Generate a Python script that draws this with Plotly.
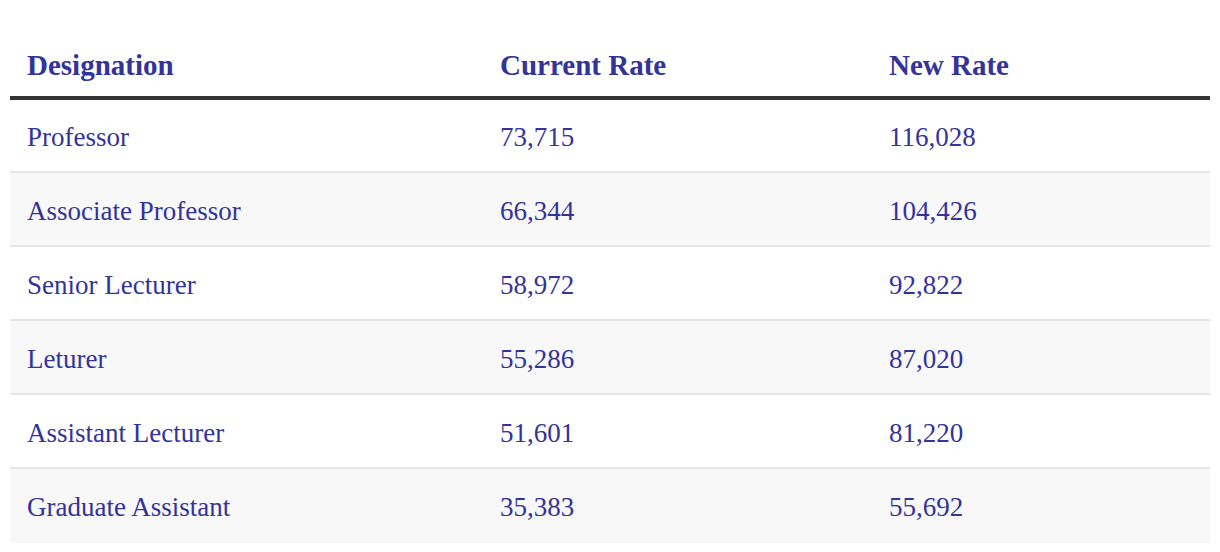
import plotly.graph_objects as go

HEADERS = ["Designation", "Current Rate", "New Rate"]
DESIGNATIONS = [
    "Professor",
    "Associate Professor",
    "Senior Lecturer",
    "Leturer",
    "Assistant Lecturer",
    "Graduate Assistant",
]
CURRENT_RATE = [73715, 66344, 58972, 55286, 51601, 35383]
NEW_RATE = [116028, 104426, 92822, 87020, 81220, 55692]

TEXT_COLOR = "#33339a"
FONT = "Liberation Serif"
COL_X = [27, 500, 889]
ROW_H = 74  # px per row
PAGE_OFF = 8  # default body margin of the html page
TEXT_DY = 3 / ROW_H  # nudge text down to sit at the row's optical centre

columns = [
    DESIGNATIONS,
    [f"{v:,}" for v in CURRENT_RATE],
    [f"{v:,}" for v in NEW_RATE],
]
rows = list(range(len(DESIGNATIONS)))

fig = go.Figure()

# body cells
for x, col in zip(COL_X, columns):
    fig.add_trace(go.Scatter(
        x=[x] * len(col), y=[r + TEXT_DY for r in rows], text=col,
        mode="text", textposition="middle right",
        textfont=dict(family=FONT, size=27, color=TEXT_COLOR),
        hoverinfo="skip", showlegend=False,
    ))

# header
fig.add_trace(go.Scatter(
    x=COL_X, y=[-0.96 + TEXT_DY] * len(HEADERS),
    text=[f"<b>{h}</b>" for h in HEADERS],
    mode="text", textposition="middle right",
    textfont=dict(family=FONT, size=29, color=TEXT_COLOR),
    hoverinfo="skip", showlegend=False,
))

shapes = []
for i in rows:
    if i % 2 == 1:
        shapes.append(dict(
            type="rect", xref="x", yref="y", x0=10, x1=1210,
            y0=i - 0.5, y1=i + 0.5, fillcolor="#f8f8f8",
            line=dict(width=0), layer="below",
        ))
    if i > 0:
        shapes.append(dict(
            type="line", xref="x", yref="y", x0=10, x1=1210,
            y0=i - 0.5 - 1 / ROW_H, y1=i - 0.5 - 1 / ROW_H,
            line=dict(color="#e6e6e6", width=2), layer="below",
        ))
shapes.append(dict(
    type="line", xref="x", yref="y", x0=10, x1=1210,
    y0=-0.5 - 1 / ROW_H, y1=-0.5 - 1 / ROW_H,
    line=dict(color="#333333", width=4),
))

fig.update_layout(
    width=1220, height=552,
    margin=dict(l=0, r=0, t=0, b=0),
    paper_bgcolor="white", plot_bgcolor="white",
    shapes=shapes,
    xaxis=dict(range=[PAGE_OFF, 1220 + PAGE_OFF], visible=False, fixedrange=True),
    yaxis=dict(range=[(552 + PAGE_OFF - 136) / ROW_H, (PAGE_OFF - 136) / ROW_H],
               visible=False, fixedrange=True),
    hovermode=False,
)

fig.write_html("out.html", config={"displayModeBar": False})
